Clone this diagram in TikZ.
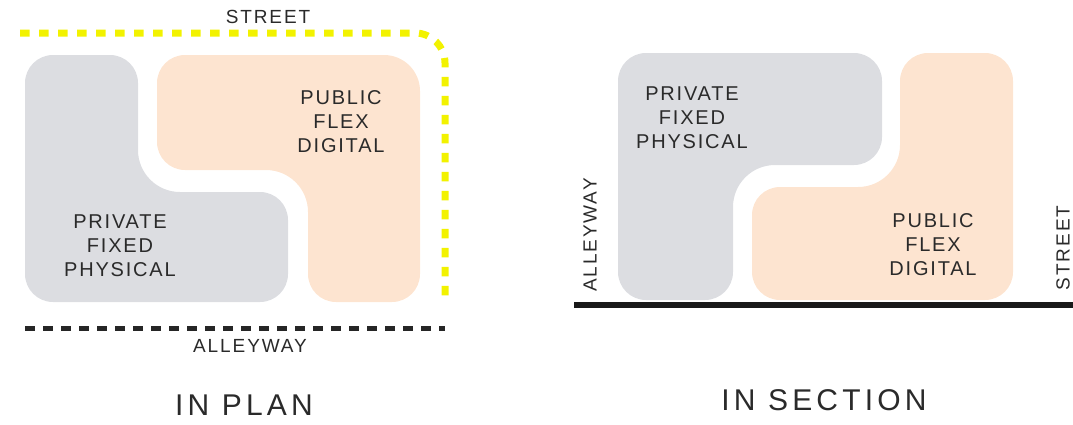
\documentclass[tikz,border=0pt]{standalone}
\usepackage{fontspec}
\setmainfont{Liberation Sans}
\definecolor{privgray}{HTML}{DCDDE1}
\definecolor{pubpeach}{HTML}{FDE4D0}
\definecolor{streetyellow}{HTML}{F2F200}
\definecolor{ink}{HTML}{2A2A2A}
\tikzset{
  privshape/.style={fill=privgray, rounded corners=28pt},
  pubshape/.style={fill=pubpeach, rounded corners=28pt},
  concave/.style={rounded corners=42pt},
  convex/.style={rounded corners=28pt},
  lbl/.style={text=ink, align=center, font=\fontsize{20}{24}\selectfont\addfontfeature{LetterSpace=9}, inner sep=0pt},
  small/.style={text=ink, font=\fontsize{19}{22}\selectfont\addfontfeature{LetterSpace=10}, inner sep=0pt},
  title/.style={text=ink, font=\fontsize{30}{32}\selectfont\addfontfeature{LetterSpace=14}, inner sep=0pt},
  yellowdash/.style={draw=streetyellow, line width=7pt, dash pattern=on 9.5pt off 9.5pt},
  blackdash/.style={draw=black!85, line width=5pt, dash pattern=on 10pt off 8pt},
  ground/.style={draw=black!90, line width=6pt}
}
\begin{document}
\begin{tikzpicture}[x=1pt, y=-1pt]
\useasboundingbox (0,0) rectangle (1073,424);
% ---------- IN PLAN ----------
\fill[privshape] (25,150) -- (25,55) -- (138,55) [concave] -- (138,192) [convex] -- (288,192) -- (288,302) -- (25,302) -- cycle;
\fill[pubshape] (157,110) -- (157,55) [rounded corners=36pt] -- (420,55) [convex] -- (420,302) -- (308,302) [concave] -- (308,170) [convex] -- (157,170) -- cycle;
\coordinate (ys) at (20,33);
\coordinate (yc) at (445,33);
\coordinate (ye) at (445,302);
\draw[yellowdash, rounded corners=30pt] (ys) -- (yc) -- (ye);
\coordinate (bs) at (25,328);
\coordinate (be) at (445,328);
\draw[blackdash] (bs) -- (be);
\node[small] (street1) at (268,17) {STREET};
\node[small] (alley1) at (250,346) {ALLEYWAY};
\node[lbl] (pub1) at (341,122) {PUBLIC\\FLEX\\DIGITAL};
\node[lbl] (priv1) at (120,246) {PRIVATE\\FIXED\\PHYSICAL};
\node[title] (plan) at (244,405) {IN PLAN};
% ---------- IN SECTION ----------
\fill[privshape] (618,150) -- (618,53) -- (882,53) -- (882,165) [concave] -- (733,165) [convex] -- (733,300) -- (618,300) -- cycle;
\fill[pubshape] (1013,150) -- (1013,300) -- (752,300) -- (752,187) [concave] -- (900,187) [convex] -- (900,53) -- (1013,53) -- cycle;
\coordinate (gs) at (574,305);
\coordinate (ge) at (1073,305);
\draw[ground] (gs) -- (ge);
\node[small, rotate=90] (alley2) at (590,235) {ALLEYWAY};
\node[small, rotate=90] (street2) at (1063,248) {STREET};
\node[lbl] (priv2) at (692,118) {PRIVATE\\FIXED\\PHYSICAL};
\node[lbl] (pub2) at (933,245) {PUBLIC\\FLEX\\DIGITAL};
\node[title] (section) at (824,400) {IN SECTION};
\end{tikzpicture}
\end{document}
